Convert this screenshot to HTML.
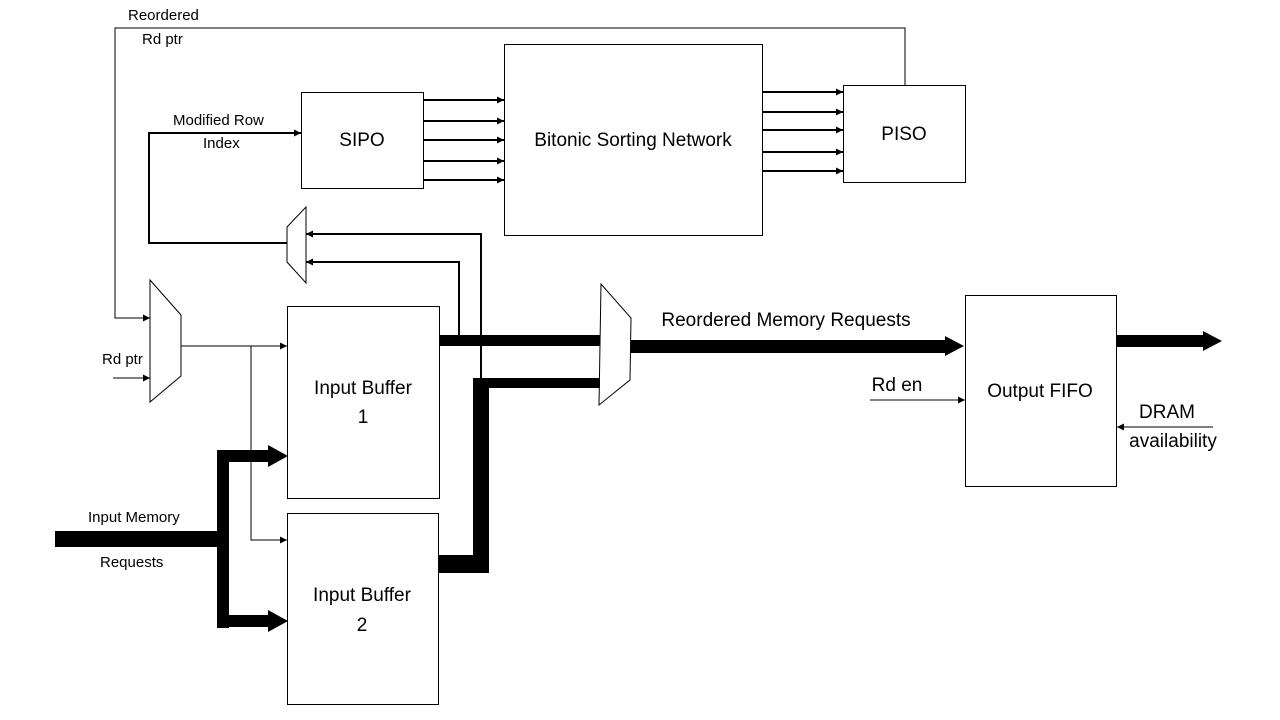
<!DOCTYPE html>
<html><head><meta charset="utf-8"><style>
html,body{margin:0;padding:0;background:#fff;}
svg{display:block;}
text{font-family:"Liberation Sans",sans-serif;fill:#000;}
</style></head><body>
<svg width="1280" height="720" viewBox="0 0 1280 720" xmlns="http://www.w3.org/2000/svg">
<defs>
<marker id="a" viewBox="0 0 10 10" refX="10" refY="5" markerWidth="8" markerHeight="7" markerUnits="userSpaceOnUse" orient="auto"><path d="M0,0L10,5L0,10z" fill="#000"/></marker>
</defs>
<g fill="#fff" stroke="#000" stroke-width="1">
<rect x="301.5" y="92.5" width="122" height="96"/>
<rect x="504.5" y="44.5" width="258" height="191"/>
<rect x="843.5" y="85.5" width="122" height="97"/>
<rect x="287.5" y="306.5" width="152" height="192"/>
<rect x="287.5" y="513.5" width="151" height="191"/>
<rect x="965.5" y="295.5" width="151" height="191"/>
<polygon points="150,280 181,315 181,376 150,402"/>
<polygon points="287,227 306,207 306,283 287,262"/>
<polygon points="601,284 631,318 630,380 599,405"/>
</g>
<g fill="none" stroke="#000" stroke-width="1">
<polyline points="905,85 905,28 115,28 115,318 150,318" marker-end="url(#a)"/>
<line x1="113" y1="378" x2="150" y2="378" marker-end="url(#a)"/>
<line x1="181" y1="346" x2="287" y2="346" marker-end="url(#a)"/>
<polyline points="251,346 251,540 287,540" marker-end="url(#a)"/>
<line x1="870" y1="400" x2="965" y2="400" marker-end="url(#a)"/>
<line x1="1213" y1="427" x2="1117" y2="427" marker-end="url(#a)"/>
</g>
<g fill="none" stroke="#000" stroke-width="2">
<polyline points="459,341 459,262 306,262" marker-end="url(#a)"/>
<polyline points="481,383 481,234 306,234" marker-end="url(#a)"/>
<polyline points="287,243 149,243 149,133 301,133" marker-end="url(#a)"/>
<line x1="424" y1="100" x2="504" y2="100" marker-end="url(#a)"/>
<line x1="424" y1="121" x2="504" y2="121" marker-end="url(#a)"/>
<line x1="424" y1="140" x2="504" y2="140" marker-end="url(#a)"/>
<line x1="424" y1="161" x2="504" y2="161" marker-end="url(#a)"/>
<line x1="424" y1="180" x2="504" y2="180" marker-end="url(#a)"/>
<line x1="763" y1="92" x2="843" y2="92" marker-end="url(#a)"/>
<line x1="763" y1="112" x2="843" y2="112" marker-end="url(#a)"/>
<line x1="763" y1="130" x2="843" y2="130" marker-end="url(#a)"/>
<line x1="763" y1="152" x2="843" y2="152" marker-end="url(#a)"/>
<line x1="763" y1="171" x2="843" y2="171" marker-end="url(#a)"/>
</g>
<g fill="#000">
<rect x="440" y="335" width="160" height="11"/>
<rect x="473" y="378" width="127" height="10"/>
<rect x="473" y="378" width="16" height="195"/>
<rect x="439" y="555" width="50" height="18"/>
<rect x="55" y="531" width="170" height="16"/>
<rect x="217" y="450" width="12" height="178"/>
<rect x="217" y="450" width="53" height="12"/>
<polygon points="268,445 288,456 268,467"/>
<rect x="217" y="615" width="53" height="12"/>
<polygon points="268,610 288,621 268,632"/>
<rect x="631" y="340" width="316" height="13"/>
<polygon points="945,336 964,346 945,356"/>
<rect x="1117" y="335" width="88" height="12"/>
<polygon points="1203,331 1222,341 1203,351"/>
</g>
<g font-size="15">
<text x="128" y="20">Reordered</text>
<text x="142" y="44">Rd ptr</text>
<text x="173" y="125">Modified Row</text>
<text x="203" y="148">Index</text>
<text x="102" y="364">Rd ptr</text>
<text x="88" y="522">Input Memory</text>
<text x="100" y="567">Requests</text>
</g>
<g font-size="19" text-anchor="middle">
<text x="362" y="146">SIPO</text>
<text x="633" y="146">Bitonic Sorting Network</text>
<text x="904" y="140">PISO</text>
<text x="363" y="394">Input Buffer</text>
<text x="363" y="423">1</text>
<text x="362" y="601">Input Buffer</text>
<text x="362" y="631">2</text>
<text x="1040" y="397">Output FIFO</text>
<text x="786" y="326">Reordered Memory Requests</text>
<text x="897" y="391">Rd en</text>
<text x="1167" y="418">DRAM</text>
<text x="1173" y="447">availability</text>
</g>
</svg>
</body></html>
